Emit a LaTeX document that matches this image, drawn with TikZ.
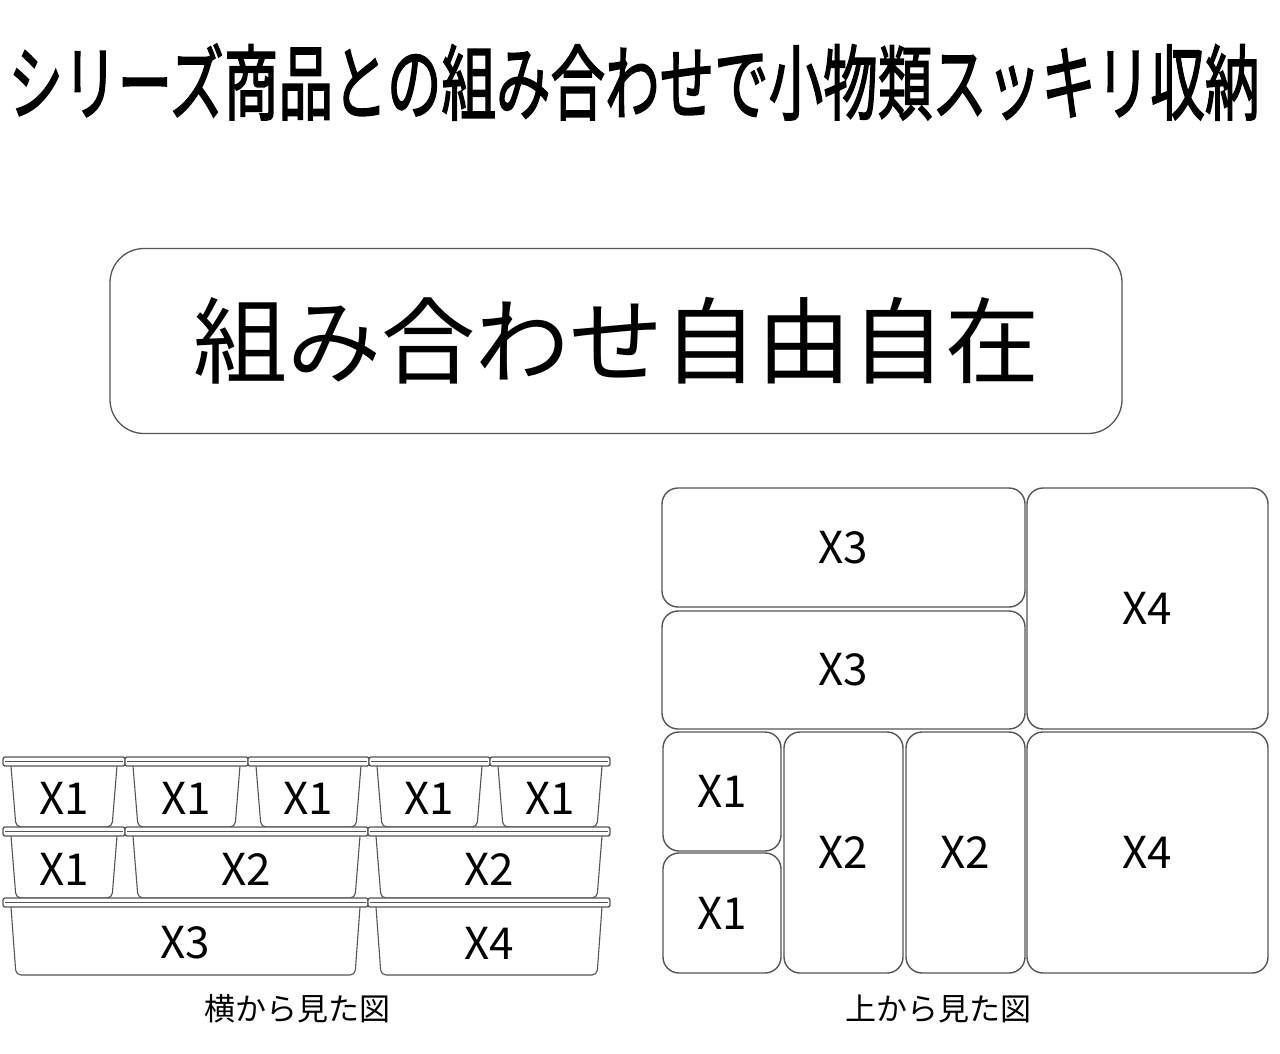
\documentclass[tikz,border=0pt]{standalone}
\usepackage{fontspec}
\newfontfamily\jpfont{Noto Sans CJK JP}
\newfontfamily\jpheavy[FakeBold=2.2]{Noto Sans CJK JP}
\usetikzlibrary{math}
\definecolor{linegray}{RGB}{85,85,85}

\tikzset{
  topbox/.style={draw=linegray, line width=1.4pt, rounded corners=16pt, inner sep=0pt,
    font=\jpfont\fontsize{44}{44}\selectfont},
  lidbar/.style={draw=linegray, line width=1.3pt, fill=white, rounded corners=2pt},
  boxbody/.style={draw=linegray, line width=1.1pt, rounded corners=5pt},
  xlab/.style={font=\jpfont\fontsize{44}{44}\selectfont, inner sep=0pt},
  caption/.style={font=\jpfont\fontsize{31}{31}\selectfont, inner sep=0pt}
}

\begin{document}
\begin{tikzpicture}[x=1pt, y=-1pt]
\tikzmath{
\lid=9;
}
\useasboundingbox (0,0) rectangle (1280,1054);

% title
\node[inner sep=0pt] (title) at (634,82)
  {\scalebox{0.665}[1]{\jpheavy\fontsize{82}{82}\selectfont シリーズ商品との組み合わせで小物類スッキリ収納}};

% banner
\node[draw=linegray, line width=1.3pt, rounded corners=34pt, minimum width=1012pt, minimum height=185pt,
  inner sep=0pt, font=\jpfont\fontsize{94}{94}\selectfont] (banner) at (616,341) {組み合わせ自由自在};

% side view
\foreach \xa/\xb/\yt/\yb/\lab/\nm in {
  3/125/757/827/X1/sa1, 125/248/757/827/X1/sa2, 248/369/757/827/X1/sa3,
  369/490/757/827/X1/sa4, 490/610/757/827/X1/sa5,
  3/125/827/898/X1/sb1, 125/368/827/898/X2/sb2, 368/610/827/898/X2/sb3,
  3/368/898/975/X3/sc1, 368/610/898/975/X4/sc2}{
  \draw[boxbody] (\xa+8,\yt+\lid) -- (\xa+13,\yb) -- (\xb-13,\yb) -- (\xb-8,\yt+\lid);
  \draw[lidbar] (\xa,\yt) rectangle (\xb,\yt+\lid);
  \draw[linegray, line width=0.6pt] (\xa+2,\yt+4) -- (\xb-2,\yt+4);
  \node[xlab] (\nm) at ({(\xa+\xb)/2},{(\yt+\lid+\yb)/2+2}) {\lab};
}
\node[caption] (sidecap) at (297,1009) {横から見た図};

% top view
\node[topbox, minimum width=363pt, minimum height=119pt] (ta3) at (843.5,547.5) {X3};
\node[topbox, minimum width=363pt, minimum height=118pt] (tb3) at (843.5,670) {X3};
\node[topbox, minimum width=241pt, minimum height=241pt] (ta4) at (1147.5,608.5) {X4};
\node[topbox, minimum width=118pt, minimum height=119pt] (ta1) at (722,791.5) {X1};
\node[topbox, minimum width=118pt, minimum height=120pt] (tb1) at (722,913) {X1};
\node[topbox, minimum width=119pt, minimum height=241pt] (ta2) at (843.5,852.5) {X2};
\node[topbox, minimum width=119pt, minimum height=241pt] (tb2) at (965.5,852.5) {X2};
\node[topbox, minimum width=241pt, minimum height=241pt] (tb4) at (1147.5,852.5) {X4};
\node[caption] (topcap) at (938,1009) {上から見た図};

\end{tikzpicture}
\end{document}
